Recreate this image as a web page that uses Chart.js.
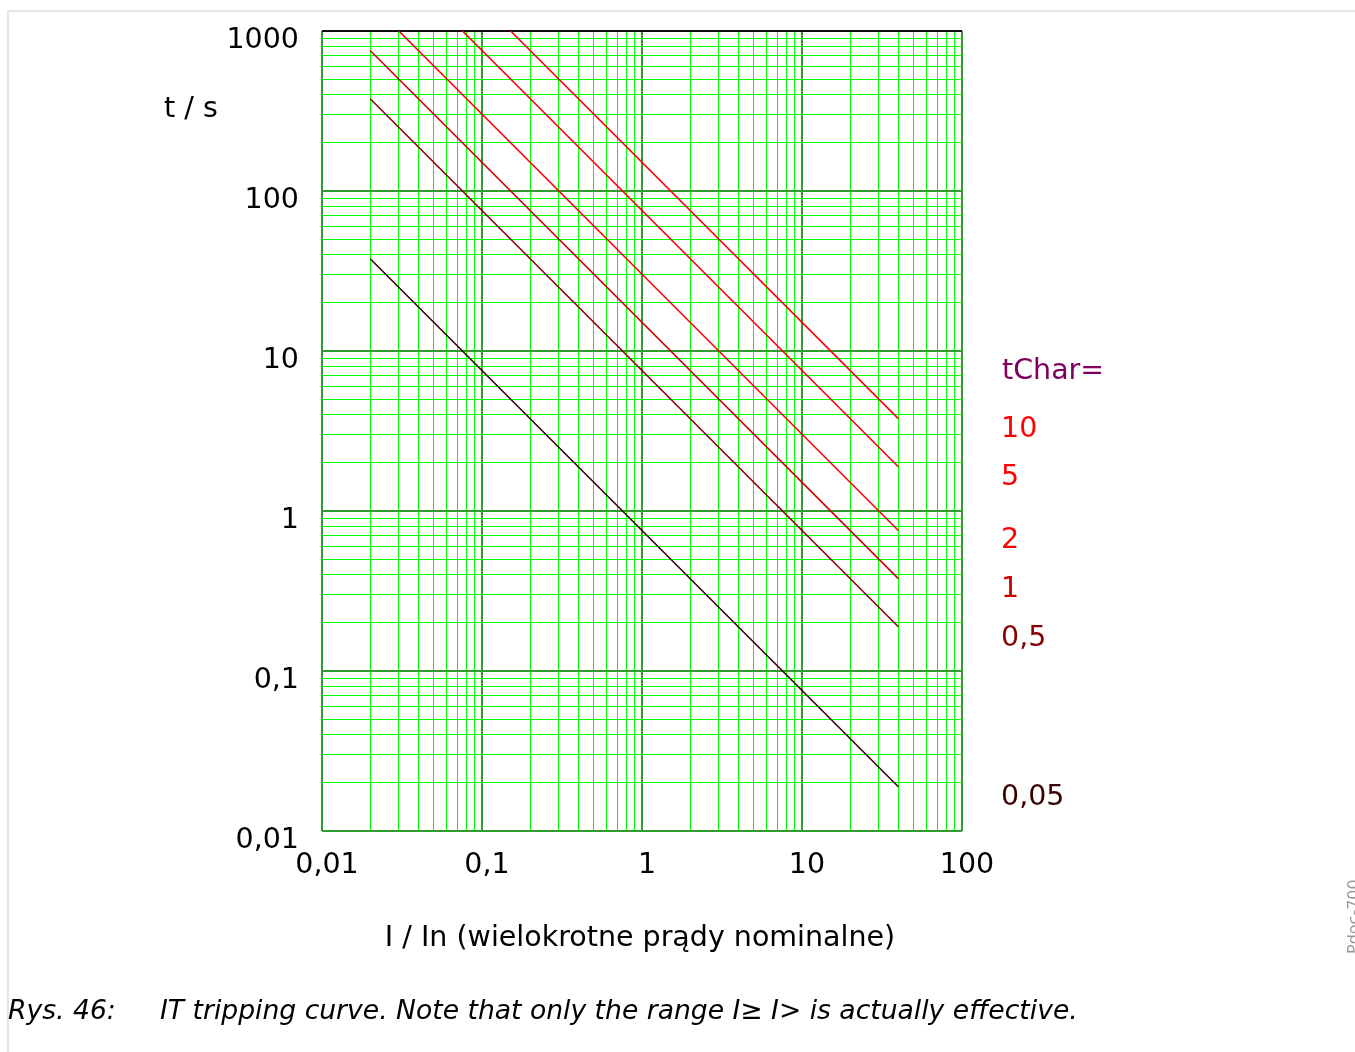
<!DOCTYPE html>
<html>
<head>
<meta charset="utf-8">
<script src="https://cdn.jsdelivr.net/npm/chart.js@4/dist/chart.umd.min.js"></script>
<style>
html,body{margin:0;padding:0;background:#fff;}
#wrap{position:relative;width:1355px;height:1052px;overflow:hidden;}
canvas{position:absolute;left:0;top:0;}
</style>
</head>
<body>
<div id="wrap"><canvas id="c" width="1355" height="1052"></canvas></div>
<script>
// ---- data ----
const tCharLabels = ['10', '5', '2', '1', '0,5', '0,05'];
const seriesColors = ['#ff0000', '#ff0000', '#ff0000', '#cc0000', '#880000', '#3a0000'];
// current I/In (start, end) and trip time t/s (start, end) of each curve
const curveX = [
  [0.151, 40],
  [0.0755, 40],
  [0.0302, 40],
  [0.02, 40],
  [0.02, 40],
  [0.02, 40]
];
const curveY = [
  [1000, 3.78],
  [1000, 1.89],
  [1000, 0.755],
  [755, 0.378],
  [377, 0.189],
  [37.7, 0.0189]
];
const xTickValues = [0.01, 0.1, 1, 10, 100];
const xTickLabels = ['0,01', '0,1', '1', '10', '100'];
const yTickValues = [0.01, 0.1, 1, 10, 100, 1000];
const yTickLabels = ['0,01', '0,1', '1', '10', '100', '1000'];
const legendTitle = 'tChar=';
const xTitle = 'I / In (wielokrotne prądy nominalne)';
const yTitle = 't / s';
const captionNo = 'Rys. 46:';
const captionText = 'IT tripping curve. Note that only the range I\u2265 I> is actually effective.';
const sideTag = 'Pdoc-700';

// ---- helpers ----
function gridValues(decades) {
  const out = [];
  for (let d = 0; d < decades.length - 1; d++) {
    for (let m = 1; m <= 9; m++) out.push(decades[d] * m);
  }
  out.push(decades[decades.length - 1]);
  return out;
}
function majorIndex(v, list) {
  for (let i = 0; i < list.length; i++) {
    if (Math.abs(v / list[i] - 1) < 1e-6) return i;
  }
  return -1;
}
const FONT = "'DejaVu Sans', 'Liberation Sans', sans-serif";
const FS = 28.5;
const decadeColor = '#2e9e2e';
const minorColor = '#00ff00';

const xGrid = gridValues(xTickValues);
const yGrid = gridValues(yTickValues);
const xGridColors = xGrid.map(v => majorIndex(v, xTickValues) >= 0 ? decadeColor : minorColor);
const xGridWidths = xGrid.map(v => majorIndex(v, xTickValues) >= 0 ? 2 : 1);
const yGridColors = yGrid.map(v => {
  const i = majorIndex(v, yTickValues);
  if (i === yTickValues.length - 1) return '#111111';
  return i >= 0 ? decadeColor : minorColor;
});
const yGridWidths = yGrid.map(v => majorIndex(v, yTickValues) >= 0 ? 2 : 1);

const datasets = tCharLabels.map((lab, i) => ({
  label: lab,
  data: curveX[i].map((x, k) => ({ x: x, y: curveY[i][k] })),
  borderColor: seriesColors[i],
  backgroundColor: seriesColors[i],
  borderWidth: 1.6,
  pointRadius: 0,
  fill: false,
  tension: 0
}));

const legendBaselines = [437, 485, 548, 597, 646, 805];

const annot = {
  id: 'annot',
  afterDraw(chart) {
    const ctx = chart.ctx;
    ctx.save();
    // figure frame
    ctx.strokeStyle = '#e6e6e6';
    ctx.lineWidth = 2;
    ctx.beginPath();
    ctx.moveTo(8, 1052);
    ctx.lineTo(8, 11);
    ctx.lineTo(1355, 11);
    ctx.stroke();

    ctx.textBaseline = 'alphabetic';
    ctx.font = FS + 'px ' + FONT;
    ctx.fillStyle = '#000';
    ctx.textAlign = 'left';
    ctx.fillText(yTitle, 164, 117);
    ctx.textAlign = 'center';
    ctx.fillText(xTitle, 640, 946);

    // legend
    ctx.textAlign = 'left';
    ctx.fillStyle = '#800060';
    ctx.fillText(legendTitle, 1002, 379);
    tCharLabels.forEach((lab, i) => {
      ctx.fillStyle = seriesColors[i];
      ctx.fillText(lab, 1001, legendBaselines[i]);
    });

    // caption
    ctx.fillStyle = '#000';
    ctx.font = 'italic 26.6px ' + FONT;
    ctx.fillText(captionNo, 8, 1019);
    ctx.fillText(captionText, 160, 1019);

    // side tag
    ctx.save();
    ctx.translate(1359, 954);
    ctx.rotate(-Math.PI / 2);
    ctx.font = '16px ' + FONT;
    ctx.fillStyle = '#9a9a9a';
    ctx.textAlign = 'left';
    ctx.fillText(sideTag, 0, 0);
    ctx.restore();
    ctx.restore();
  }
};

new Chart(document.getElementById('c'), {
  type: 'line',
  data: { datasets: datasets },
  plugins: [annot],
  options: {
    responsive: false,
    animation: false,
    devicePixelRatio: 1,
    layout: { padding: { left: 0, top: 31, right: 393, bottom: 0 } },
    plugins: { legend: { display: false }, tooltip: { enabled: false } },
    scales: {
      x: {
        type: 'logarithmic',
        position: 'bottom',
        min: 0.01,
        max: 100,
        afterBuildTicks: s => { s.ticks = xGrid.map(v => ({ value: v })); },
        afterFit: s => { s.height = 221; s.paddingLeft = 0; s.paddingRight = 0; },
        border: { display: false },
        grid: {
          drawTicks: false,
          color: xGridColors,
          lineWidth: xGridWidths
        },
        ticks: {
          autoSkip: false,
          maxRotation: 0,
          minRotation: 0,
          padding: 17,
          labelOffset: 5,
          color: '#000',
          font: { family: FONT, size: FS },
          callback: v => { const i = majorIndex(v, xTickValues); return i >= 0 ? xTickLabels[i] : ''; }
        }
      },
      y: {
        type: 'logarithmic',
        position: 'left',
        min: 0.01,
        max: 1000,
        afterBuildTicks: s => { s.ticks = yGrid.map(v => ({ value: v })); },
        afterFit: s => { s.width = 322; s.paddingTop = 0; s.paddingBottom = 0; },
        border: { display: false },
        grid: {
          drawTicks: false,
          color: yGridColors,
          lineWidth: yGridWidths
        },
        ticks: {
          autoSkip: false,
          padding: 23,
          labelOffset: 10,
          color: '#000',
          font: { family: FONT, size: FS },
          callback: v => { const i = majorIndex(v, yTickValues); return i >= 0 ? yTickLabels[i] : ''; }
        }
      }
    }
  }
});
</script>
</body>
</html>
